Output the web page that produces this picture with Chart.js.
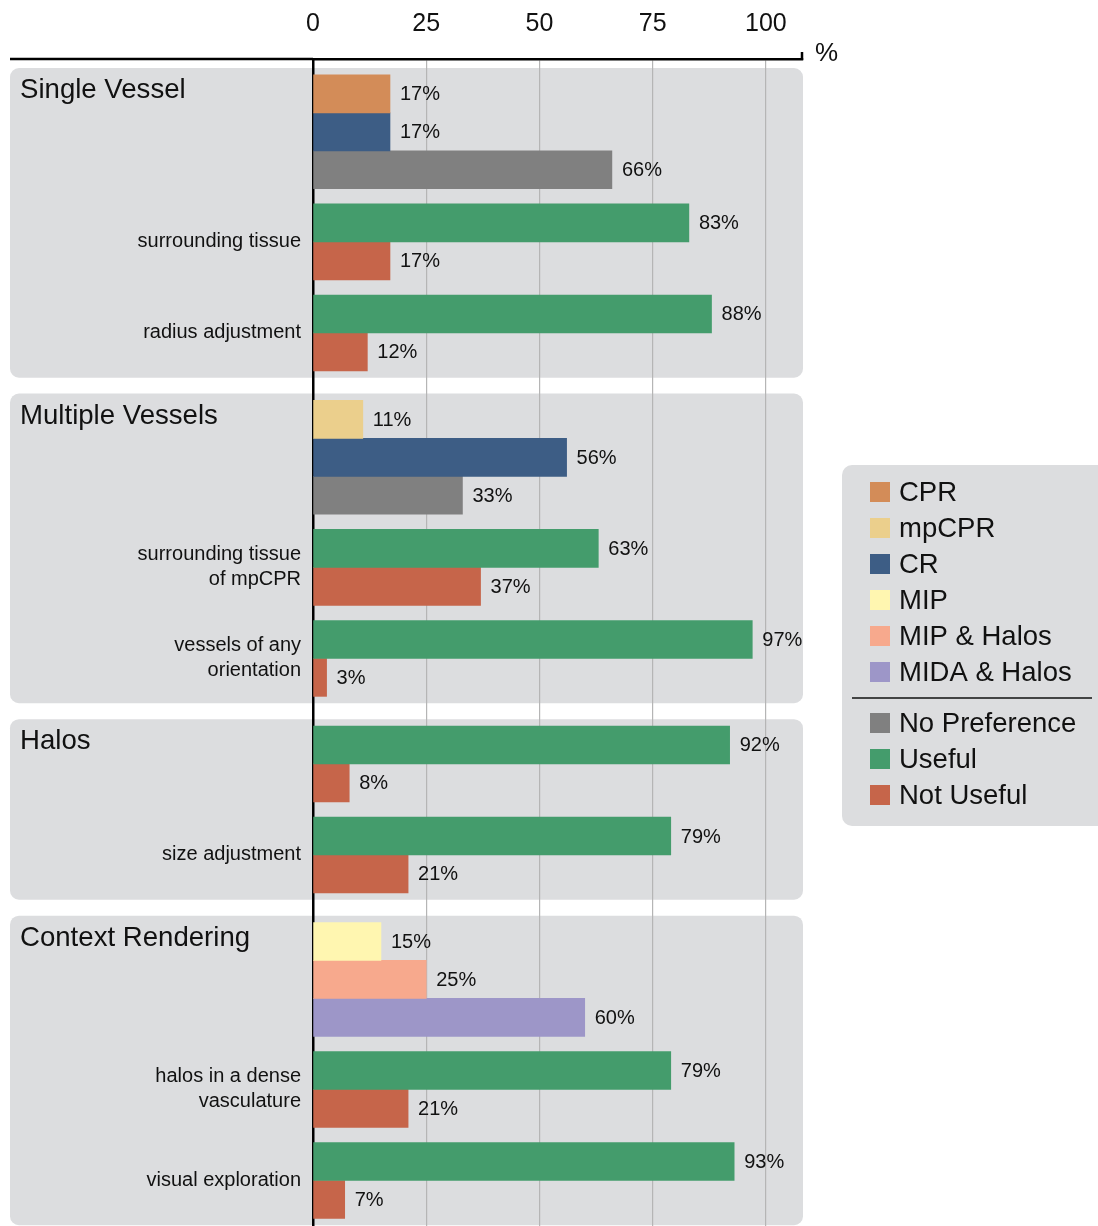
<!DOCTYPE html>
<html>
<head>
<meta charset="utf-8">
<script src="https://cdn.jsdelivr.net/npm/chart.js@4.4.1/dist/chart.umd.min.js"></script>
<style>
html, body { margin: 0; padding: 0; background: #fff; }
#wrap { width: 1098px; height: 1226px; position: relative; }
</style>
</head>
<body>
<div id="wrap"><canvas id="chart"></canvas></div>
<script>
const xTicks = [0, 25, 50, 75, 100];

const seriesNames = ["CPR", "mpCPR", "CR", "MIP", "MIP & Halos", "MIDA & Halos", "No Preference", "Useful", "Not Useful"];
const seriesColors = ["#d38c58", "#ebcf8c", "#3d5d85", "#fff6b0", "#f7a98d", "#9d96c8", "#808080", "#449c6c", "#c6654a"];

const panelTitles = ["Single Vessel", "Multiple Vessels", "Halos", "Context Rendering"];

// which technique was preferred, per panel
const prefSeries = [["CPR", "CR", "No Preference"], ["mpCPR", "CR", "No Preference"], [], ["MIP", "MIP & Halos", "MIDA & Halos"]];
const prefValues = [[17, 17, 66], [11, 56, 33], [], [15, 25, 60]];

// usefulness questions, per panel
const questionLabels = [
  ["surrounding tissue", "radius adjustment"],
  [["surrounding tissue", "of mpCPR"], ["vessels of any", "orientation"]],
  ["", "size adjustment"],
  [["halos in a dense", "vasculature"], "visual exploration"]
];
const usefulValues = [[83, 88], [63, 97], [92, 79], [79, 93]];
const notUsefulValues = [[17, 12], [37, 3], [8, 21], [21, 7]];

const FONT = '"Liberation Sans", Arial, Helvetica, sans-serif';
Chart.defaults.font.family = FONT;

// row layout in bar units (1 = one bar)
const TOP_GAP = 0.24, PAD = 0.18, GROUP_GAP = 0.4, PANEL_GAP = 0.42, BOTTOM_GAP = 0.02;
const points = seriesNames.map(() => []);
const panels = [];
const labelPos = [];
const labelText = [];
let pos = TOP_GAP;
panelTitles.forEach((title, p) => {
  const start = pos;
  pos += PAD;
  const groups = [];
  if (prefSeries[p].length) {
    groups.push({ label: "", rows: prefSeries[p].map((s, i) => [s, prefValues[p][i]]) });
  }
  questionLabels[p].forEach((q, i) => {
    groups.push({ label: q, rows: [["Useful", usefulValues[p][i]], ["Not Useful", notUsefulValues[p][i]]] });
  });
  groups.forEach((g, gi) => {
    if (gi > 0) pos += GROUP_GAP;
    const top = pos;
    g.rows.forEach(([s, v]) => {
      points[seriesNames.indexOf(s)].push({ x: v, y: pos + 0.5 });
      pos += 1;
    });
    if (g.label) { labelPos.push((top + pos) / 2); labelText.push(g.label); }
  });
  pos += PAD;
  panels.push({ title, start, end: pos });
  pos += PANEL_GAP;
});
const yMax = pos - PANEL_GAP + BOTTOM_GAP;
const AXIS_H = 59;
const LABEL_W = 303;
const barPx = (1226 - AXIS_H) / yMax;

const panelPlugin = {
  id: "panels",
  beforeDraw(chart) {
    const { ctx, chartArea, scales: { y } } = chart;
    ctx.save();
    panels.forEach(p => {
      const top = y.getPixelForValue(p.start);
      const bot = y.getPixelForValue(p.end);
      ctx.fillStyle = "#dcdddf";
      ctx.beginPath();
      ctx.roundRect(y.left, top, chartArea.right - y.left, bot - top, 9);
      ctx.fill();
      ctx.fillStyle = "#111";
      ctx.font = "27.6px " + FONT;
      ctx.textAlign = "left";
      ctx.textBaseline = "alphabetic";
      ctx.fillText(p.title, y.left + 10, top + 30);
    });
    ctx.restore();
  }
};

const valuePlugin = {
  id: "values",
  afterDatasetsDraw(chart) {
    const ctx = chart.ctx;
    ctx.save();
    ctx.font = "20px " + FONT;
    ctx.fillStyle = "#111";
    ctx.textAlign = "left";
    ctx.textBaseline = "middle";
    chart.data.datasets.forEach((ds, i) => {
      chart.getDatasetMeta(i).data.forEach((bar, j) => {
        ctx.fillText(ds.data[j].x + "%", bar.x + 10, bar.y + 1);
      });
    });
    ctx.restore();
  }
};

const extrasPlugin = {
  id: "extras",
  afterDraw(chart) {
    const { ctx, chartArea, scales: { y } } = chart;
    ctx.save();
    // axis line continues over the label column, end tick and unit
    ctx.strokeStyle = "#000";
    ctx.lineWidth = 2.5;
    ctx.beginPath();
    ctx.moveTo(y.left, chartArea.top);
    ctx.lineTo(chartArea.left, chartArea.top);
    ctx.moveTo(chartArea.right - 1, chartArea.top + 1);
    ctx.lineTo(chartArea.right - 1, chartArea.top - 7);
    ctx.stroke();
    ctx.fillStyle = "#111";
    ctx.font = "26px " + FONT;
    ctx.textAlign = "left";
    ctx.textBaseline = "middle";
    ctx.fillText("%", chartArea.right + 12, chartArea.top - 5);

    // legend
    const lx = 842, ly = 465;
    ctx.fillStyle = "#dcdddf";
    ctx.beginPath();
    ctx.roundRect(lx, ly, 300, 361, 10);
    ctx.fill();
    ctx.font = "27.5px " + FONT;
    let cy = ly + 27;
    seriesNames.forEach((name, i) => {
      if (name === "No Preference") {
        const sy = cy - 36 + 26;
        ctx.strokeStyle = "#111";
        ctx.lineWidth = 1.3;
        ctx.beginPath();
        ctx.moveTo(lx + 10, sy);
        ctx.lineTo(lx + 250, sy);
        ctx.stroke();
        cy += 15;
      }
      ctx.fillStyle = seriesColors[i];
      ctx.fillRect(lx + 28, cy - 10, 20, 20);
      ctx.fillStyle = "#111";
      ctx.fillText(name, lx + 57, cy + 1);
      cy += 36;
    });
    ctx.restore();
  }
};

new Chart(document.getElementById("chart"), {
  type: "bar",
  data: {
    datasets: seriesNames.map((name, i) => ({
      label: name,
      data: points[i],
      backgroundColor: seriesColors[i],
      borderWidth: 0,
      barThickness: barPx,
      grouped: false
    }))
  },
  options: {
    indexAxis: "y",
    responsive: true,
    maintainAspectRatio: false,
    animation: false,
    layout: { padding: { left: 10, right: 295, top: 0, bottom: 0 } },
    plugins: { legend: { display: false }, tooltip: { enabled: false } },
    scales: {
      x: {
        type: "linear",
        position: "top",
        min: 0,
        max: 108.2,
        afterBuildTicks: s => { s.ticks = xTicks.map(v => ({ value: v })); },
        afterFit: s => { s.height = AXIS_H; s.paddingLeft = 0; s.paddingRight = 0; },
        grid: {
          drawTicks: false,
          lineWidth: 1.2,
          color: c => (c.tick && c.tick.value === 0) ? "rgba(0,0,0,0)" : "#b5b5b5"
        },
        border: { display: true, color: "#000", width: 2.5 },
        ticks: { autoSkip: false, padding: 20, color: "#111", font: { size: 25 }, callback: v => v }
      },
      y: {
        type: "linear",
        position: "left",
        reverse: true,
        offset: false,
        min: 0,
        max: yMax,
        afterBuildTicks: s => { s.ticks = labelPos.map(v => ({ value: v })); },
        afterFit: s => { s.width = LABEL_W; s.paddingTop = 0; s.paddingBottom = 0; },
        grid: { display: false, drawTicks: false, offset: false },
        border: { display: true, color: "#000", width: 2.5 },
        ticks: {
          autoSkip: false,
          padding: 12,
          color: "#111",
          font: { size: 20, lineHeight: 1.25 },
          callback: (v, i) => labelText[i]
        }
      }
    }
  },
  plugins: [panelPlugin, valuePlugin, extrasPlugin]
});
</script>
</body>
</html>
